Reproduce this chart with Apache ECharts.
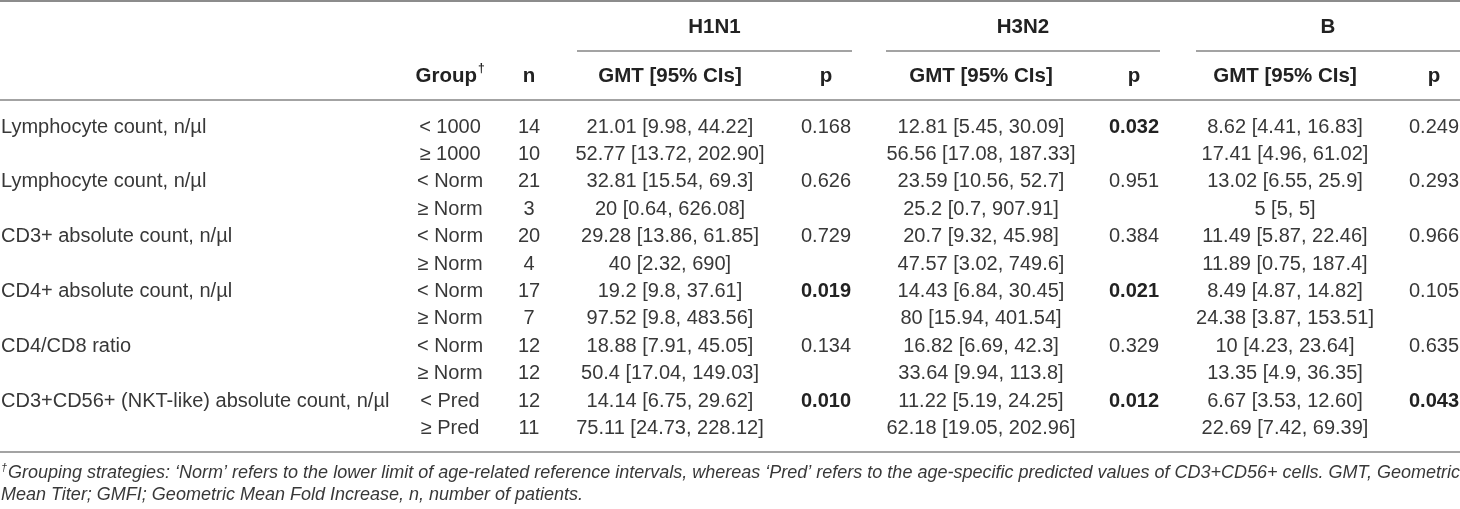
<!DOCTYPE html>
<html>
<head>
<meta charset="utf-8">
<script src="https://cdn.jsdelivr.net/npm/echarts@6/dist/echarts.min.js"></script>
<style>
  html, body { margin: 0; padding: 0; background: #fff; }
  #chart { width: 1460px; height: 509px; }
</style>
</head>
<body>
<div id="chart"></div>
<script>
// --- table content ---
const variables = [
  'Lymphocyte count, n/µl',
  'Lymphocyte count, n/µl',
  'CD3+ absolute count, n/µl',
  'CD4+ absolute count, n/µl',
  'CD4/CD8 ratio',
  'CD3+CD56+ (NKT-like) absolute count, n/µl'
];
const groups = ['< 1000', '≥ 1000', '< Norm', '≥ Norm', '< Norm', '≥ Norm',
  '< Norm', '≥ Norm', '< Norm', '≥ Norm', '< Pred', '≥ Pred'];
const nPatients = [14, 10, 21, 3, 20, 4, 17, 7, 12, 12, 12, 11];

const strains = ['H1N1', 'H3N2', 'B'];
const h1n1Gmt = ['21.01 [9.98, 44.22]', '52.77 [13.72, 202.90]', '32.81 [15.54, 69.3]', '20 [0.64, 626.08]',
  '29.28 [13.86, 61.85]', '40 [2.32, 690]', '19.2 [9.8, 37.61]', '97.52 [9.8, 483.56]',
  '18.88 [7.91, 45.05]', '50.4 [17.04, 149.03]', '14.14 [6.75, 29.62]', '75.11 [24.73, 228.12]'];
const h3n2Gmt = ['12.81 [5.45, 30.09]', '56.56 [17.08, 187.33]', '23.59 [10.56, 52.7]', '25.2 [0.7, 907.91]',
  '20.7 [9.32, 45.98]', '47.57 [3.02, 749.6]', '14.43 [6.84, 30.45]', '80 [15.94, 401.54]',
  '16.82 [6.69, 42.3]', '33.64 [9.94, 113.8]', '11.22 [5.19, 24.25]', '62.18 [19.05, 202.96]'];
const bGmt = ['8.62 [4.41, 16.83]', '17.41 [4.96, 61.02]', '13.02 [6.55, 25.9]', '5 [5, 5]',
  '11.49 [5.87, 22.46]', '11.89 [0.75, 187.4]', '8.49 [4.87, 14.82]', '24.38 [3.87, 153.51]',
  '10 [4.23, 23.64]', '13.35 [4.9, 36.35]', '6.67 [3.53, 12.60]', '22.69 [7.42, 69.39]'];
const h1n1P = ['0.168', '0.626', '0.729', '0.019', '0.134', '0.010'];
const h3n2P = ['0.032', '0.951', '0.384', '0.021', '0.329', '0.012'];
const bP = ['0.249', '0.293', '0.966', '0.105', '0.635', '0.043'];

const headers = ['Group', 'n', 'GMT [95% CIs]', 'p'];
const footnote = [
  'Grouping strategies: ‘Norm’ refers to the lower limit of age-related reference intervals, whereas ‘Pred’ refers to the age-specific predicted values of CD3+CD56+ cells. GMT, Geometric',
  'Mean Titer; GMFI; Geometric Mean Fold Increase, n, number of patients.'
];

const gmtCols = [h1n1Gmt, h3n2Gmt, bGmt];
const pCols = [h1n1P, h3n2P, bP];

// --- layout (page pixels, hidden axes map 1:1 onto the canvas) ---
const W = 1460, H = 509;
const firstRowY = 127, rowStep = 27.4;
const colX = { label: 1, group: 450, n: 529, gmt: [670, 981, 1285], p: [826, 1134, 1434] };
const spans = [[577, 852], [886, 1160], [1196, 1460]];
const lineY = { top: 1, span: 51, head: 100, bottom: 452 };
const strainY = 27, headY = 76, footY = [473, 495];

const FONT = '"Liberation Sans", Arial, Helvetica, sans-serif';
const BODY = '#383838', HEAD = '#222', RULE = '#a3a3a3';
const BODY_SIZE = 20, HEAD_SIZE = 20.5, FOOT_SIZE = 18;

function txt(x, y, text, opts) {
  opts = opts || {};
  return {
    type: 'text', x: x, y: y,
    style: {
      text: text,
      fill: opts.fill || BODY,
      fontSize: opts.size || BODY_SIZE,
      fontWeight: opts.weight || 'normal',
      fontStyle: opts.style || 'normal',
      fontFamily: FONT,
      align: opts.align || 'center',
      verticalAlign: 'middle'
    }
  };
}

function rule(api, x1, x2, y, color) {
  const a = api.coord([x1, y]), b = api.coord([x2, y]);
  return { type: 'line', shape: { x1: a[0], y1: a[1], x2: b[0], y2: b[1] },
    style: { stroke: color || RULE, lineWidth: 2 } };
}

const chart = echarts.init(document.getElementById('chart'));

chart.setOption({
  animation: false,
  grid: { left: 0, right: 0, top: 0, bottom: 0 },
  xAxis: { type: 'value', min: 0, max: W, show: false },
  yAxis: { type: 'value', min: 0, max: H, inverse: true, show: false },
  series: [
    {
      // frame: rules, column headers, footnote
      type: 'custom',
      coordinateSystem: 'cartesian2d',
      data: [[0, 0]],
      renderItem: function (params, api) {
        const kids = [];
        const hb = { weight: 'bold', size: HEAD_SIZE, fill: HEAD };
        kids.push(rule(api, 0, W, lineY.top, '#8c8c8c'));
        kids.push(rule(api, 0, W, lineY.head));
        kids.push(rule(api, 0, W, lineY.bottom));
        const hy = api.coord([0, headY])[1];
        const sy = api.coord([0, strainY])[1];
        spans.forEach(function (s, k) {
          kids.push(rule(api, s[0], s[1], lineY.span));
          kids.push(txt(api.coord([(s[0] + s[1]) / 2, 0])[0], sy, strains[k], hb));
          kids.push(txt(api.coord([colX.gmt[k], 0])[0], hy, headers[2], hb));
          kids.push(txt(api.coord([colX.p[k], 0])[0], hy, headers[3], hb));
        });
        const gx = api.coord([colX.group + 27, 0])[0];
        kids.push(txt(gx, hy, headers[0], Object.assign({}, hb, { align: 'right' })));
        kids.push(txt(gx + 1, hy - 7, '†', { weight: 'bold', size: 12, fill: HEAD, align: 'left' }));
        kids.push(txt(api.coord([colX.n, 0])[0], hy, headers[1], hb));
        const fx = api.coord([colX.label, 0])[0];
        kids.push(txt(fx, api.coord([0, footY[0]])[1] - 5, '†', { style: 'italic', size: 11, align: 'left' }));
        footnote.forEach(function (line, k) {
          kids.push(txt(fx + (k === 0 ? 7 : 0), api.coord([0, footY[k]])[1], line, { style: 'italic', size: FOOT_SIZE, align: 'left' }));
        });
        return { type: 'group', children: kids };
      }
    },
    {
      // body rows
      type: 'custom',
      coordinateSystem: 'cartesian2d',
      data: groups.map(function (g, i) { return [i, firstRowY + i * rowStep]; }),
      renderItem: function (params, api) {
        const i = api.value(0);
        const y = api.coord([0, api.value(1)])[1];
        const xs = function (v) { return api.coord([v, 0])[0]; };
        const kids = [];
        if (i % 2 === 0) {
          kids.push(txt(xs(colX.label), y, variables[i / 2], { align: 'left' }));
        }
        kids.push(txt(xs(colX.group), y, groups[i]));
        kids.push(txt(xs(colX.n), y, String(nPatients[i])));
        gmtCols.forEach(function (col, k) {
          kids.push(txt(xs(colX.gmt[k]), y, col[i]));
          if (i % 2 === 0) {
            const p = pCols[k][i / 2];
            const sig = parseFloat(p) < 0.05;
            kids.push(txt(xs(colX.p[k]), y, p, { weight: sig ? 'bold' : 'normal', fill: sig ? HEAD : BODY }));
          }
        });
        return { type: 'group', children: kids };
      }
    }
  ]
});
</script>
</body>
</html>
